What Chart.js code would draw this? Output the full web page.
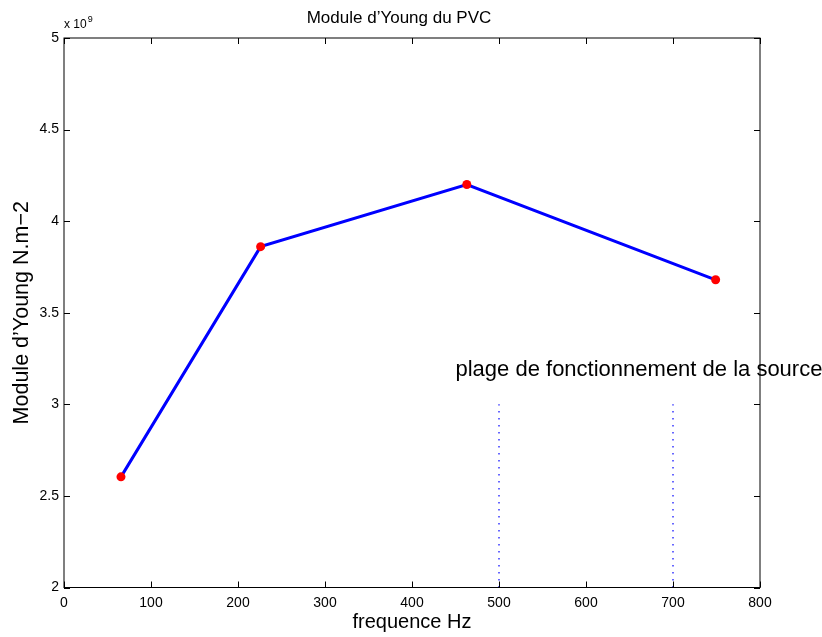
<!DOCTYPE html>
<html>
<head>
<meta charset="utf-8">
<script src="https://cdn.jsdelivr.net/npm/chart.js@4"></script>
<style>
    html, body { margin: 0; padding: 0; background: #fff; }
    #wrap { width: 822px; height: 637px; }
</style>
</head>
<body>
<div id="wrap"><canvas id="youngChart" width="822" height="637"></canvas></div>
<script>
// Mesures (module en unités de 10^9 N.m-2)
const frequences = [65.5, 226, 463, 749];
const modules = [2.604, 3.861, 4.2, 3.68];

// Plage de fonctionnement de la source
const bornesPlage = [500, 700];
const basPlage = 2;
const hautPlage = 3;

const ticksX = [0, 100, 200, 300, 400, 500, 600, 700, 800];
const ticksY = [2, 2.5, 3, 3.5, 4, 4.5, 5];

const POLICE = "'Liberation Sans', Arial, Helvetica, sans-serif";

// Boîte style MATLAB, graduations vers l'intérieur, annotations
const axesMatlab = {
    id: 'axesMatlab',
    afterDraw(chart) {
        const { ctx, chartArea: a, scales } = chart;
        const tl = 6;
        ctx.save();
        ctx.strokeStyle = '#000';
        ctx.lineWidth = 1;
        ctx.strokeRect(a.left, a.top, a.right - a.left, a.bottom - a.top);

        ctx.beginPath();
        ticksX.forEach(v => {
            const px = Math.round(scales.x.getPixelForValue(v)) + 0.5;
            ctx.moveTo(px, a.bottom); ctx.lineTo(px, a.bottom - tl);
            ctx.moveTo(px, a.top); ctx.lineTo(px, a.top + tl);
        });
        ticksY.forEach(v => {
            const py = Math.round(scales.y.getPixelForValue(v)) + 0.5;
            ctx.moveTo(a.left, py); ctx.lineTo(a.left + tl, py);
            ctx.moveTo(a.right, py); ctx.lineTo(a.right - tl, py);
        });
        ctx.stroke();

        ctx.fillStyle = '#000';

        // titre
        ctx.font = '17px ' + POLICE;
        ctx.textAlign = 'center';
        ctx.textBaseline = 'middle';
        ctx.fillText('Module d\u2019Young du PVC', 399, 18);

        // multiplicateur de l'axe y
        ctx.textBaseline = 'alphabetic';
        ctx.textAlign = 'left';
        ctx.font = '12px ' + POLICE;
        ctx.fillText('x 10', a.left, 28);
        const w = ctx.measureText('x 10').width;
        ctx.font = '9px ' + POLICE;
        ctx.fillText('9', a.left + w + 1, 22);

        // texte de la plage
        ctx.font = '22px ' + POLICE;
        ctx.textBaseline = 'middle';
        ctx.fillText('plage de fonctionnement de la source',
            scales.x.getPixelForValue(450), scales.y.getPixelForValue(3.19));
        ctx.restore();
    }
};

const toPoints = (xs, ys) => xs.map((x, i) => ({ x, y: ys[i] }));

const lignePlage = (x) => ({
    data: toPoints([x, x], [basPlage, hautPlage]),
    showLine: true,
    borderColor: 'rgba(30, 30, 255, 0.9)',
    borderWidth: 1.5,
    borderDash: [1.5, 5.5],
    pointRadius: 0,
    order: 2
});

new Chart(document.getElementById('youngChart'), {
    type: 'scatter',
    data: {
        datasets: [
            {
                data: toPoints(frequences, modules),
                showLine: true,
                borderColor: '#0000ff',
                borderWidth: 3,
                backgroundColor: '#ff0000',
                pointBackgroundColor: '#ff0000',
                pointBorderColor: '#ff0000',
                pointRadius: 4.5,
                pointBorderWidth: 0,
                order: 1
            },
            ...bornesPlage.map(lignePlage)
        ]
    },
    options: {
        responsive: false,
        animation: false,
        layout: { padding: { left: 0, right: 62, top: 38, bottom: 0 } },
        plugins: {
            legend: { display: false },
            tooltip: { enabled: false },
            title: { display: false }
        },
        scales: {
            x: {
                type: 'linear',
                min: 0,
                max: 800,
                afterBuildTicks: (s) => { s.ticks = ticksX.map(v => ({ value: v })); },
                afterFit: (s) => { s.height = 49.5; },
                grid: { display: false, drawTicks: false },
                border: { display: false },
                ticks: {
                    color: '#000',
                    padding: 7,
                    maxRotation: 0,
                    font: { family: POLICE, size: 14 }
                },
                title: {
                    display: true,
                    text: 'frequence Hz',
                    color: '#000',
                    font: { family: POLICE, size: 20 },
                    padding: { top: 0, bottom: 3 }
                }
            },
            y: {
                type: 'linear',
                min: 2,
                max: 5,
                afterBuildTicks: (s) => { s.ticks = ticksY.map(v => ({ value: v })); },
                afterFit: (s) => { s.width = 64; },
                grid: { display: false, drawTicks: false },
                border: { display: false },
                ticks: {
                    color: '#000',
                    padding: 5,
                    font: { family: POLICE, size: 14 },
                    callback: (v) => String(v)
                },
                title: {
                    display: true,
                    text: 'Module d\u2019Young N.m\u22122',
                    color: '#000',
                    font: { family: POLICE, size: 21.5 },
                    padding: { top: 9, bottom: 0 }
                }
            }
        }
    },
    plugins: [axesMatlab]
});
</script>
</body>
</html>
